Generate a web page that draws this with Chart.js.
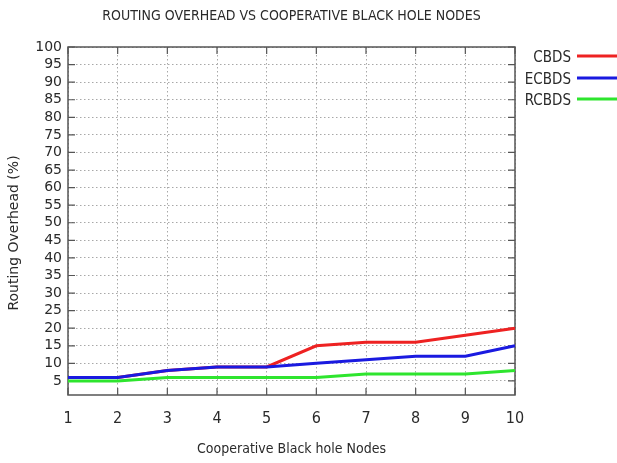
<!DOCTYPE html>
<html>
<head>
<meta charset="utf-8">
<script src="https://cdn.jsdelivr.net/npm/chart.js@4"></script>
<style>
  html, body { margin: 0; padding: 0; background: #fff; }
  #wrap { width: 617px; height: 463px; position: relative; }
</style>
</head>
<body>
<div id="wrap"><canvas id="c" width="617" height="463"></canvas></div>
<script>
const titleText = 'ROUTING OVERHEAD VS COOPERATIVE BLACK HOLE NODES';
const xTitle = 'Cooperative Black hole Nodes';
const yTitle = 'Routing Overhead (%)';
const categories = ['1', '2', '3', '4', '5', '6', '7', '8', '9', '10'];
const yTicks = [5, 10, 15, 20, 25, 30, 35, 40, 45, 50, 55, 60, 65, 70, 75, 80, 85, 90, 95, 100];
const cbds = [6, 6, 8, 9, 9, 15, 16, 16, 18, 20];
const ecbds = [6, 6, 8, 9, 9, 10, 11, 12, 12, 15];
const rcbds = [5, 5, 6, 6, 6, 6, 7, 7, 7, 8];
const seriesNames = ['CBDS', 'ECBDS', 'RCBDS'];

const NARROW = "'Liberation Sans Narrow', 'DejaVu Sans Condensed', sans-serif";
const WIDE = "'DejaVu Sans', sans-serif";
const TEXT = '#2a2a2a';

const framePlugin = {
  id: 'frame',
  beforeDraw(chart) {
    const ctx = chart.ctx;
    ctx.save();
    ctx.fillStyle = '#fff';
    ctx.fillRect(0, 0, chart.width, chart.height);
    ctx.restore();
  },
  beforeDatasetsDraw(chart) {
    const {ctx, chartArea: a, scales} = chart;
    ctx.save();
    ctx.strokeStyle = '#555';
    ctx.lineWidth = 1.5;
    ctx.strokeRect(a.left, a.top, a.right - a.left, a.bottom - a.top);
    ctx.lineWidth = 1.2;
    const tl = 7;
    ctx.beginPath();
    scales.x.ticks.forEach((t, i) => {
      const x = scales.x.getPixelForTick(i);
      ctx.moveTo(x, a.bottom); ctx.lineTo(x, a.bottom - tl);
      ctx.moveTo(x, a.top); ctx.lineTo(x, a.top + tl);
    });
    scales.y.ticks.forEach(t => {
      const y = scales.y.getPixelForValue(t.value);
      ctx.moveTo(a.left, y); ctx.lineTo(a.left + tl, y);
      ctx.moveTo(a.right, y); ctx.lineTo(a.right - tl, y);
    });
    ctx.stroke();
    ctx.restore();
  },
  afterDraw(chart) {
    const {ctx, chartArea: a} = chart;
    ctx.save();
    // title
    ctx.fillStyle = TEXT;
    ctx.font = '14px ' + NARROW;
    ctx.textAlign = 'center';
    ctx.textBaseline = 'middle';
    ctx.fillText(titleText, (a.left + a.right) / 2, 16);
    // y title
    ctx.save();
    ctx.translate(14, 233);
    ctx.rotate(-Math.PI / 2);
    ctx.font = '14px ' + WIDE;
    ctx.fillText(yTitle, 0, 0);
    ctx.restore();
    // legend
    ctx.font = '15px ' + NARROW;
    ctx.textAlign = 'right';
    const ys = [56, 78, 99];
    chart.data.datasets.forEach((ds, i) => {
      ctx.fillStyle = TEXT;
      ctx.fillText(ds.label, 571, ys[i] + 2);
      ctx.strokeStyle = ds.borderColor;
      ctx.lineWidth = 3;
      ctx.beginPath();
      ctx.moveTo(577, ys[i]);
      ctx.lineTo(620, ys[i]);
      ctx.stroke();
    });
    ctx.restore();
  }
};

const grid = { color: '#a8a8a8', lineWidth: 1, drawTicks: false };

new Chart(document.getElementById('c'), {
  type: 'line',
  data: {
    labels: categories,
    datasets: [
      { label: seriesNames[0], data: cbds, borderColor: '#ee2222', order: 3 },
      { label: seriesNames[1], data: ecbds, borderColor: '#1a1ae0', order: 2 },
      { label: seriesNames[2], data: rcbds, borderColor: '#2ee52e', order: 1 }
    ].map(d => Object.assign(d, { borderWidth: 3, pointRadius: 0, tension: 0, fill: false }))
  },
  options: {
    responsive: false,
    animation: false,
    devicePixelRatio: 1,
    layout: { padding: { top: 47, right: 102, left: 0, bottom: 0 } },
    plugins: { legend: { display: false }, title: { display: false }, tooltip: { enabled: false } },
    scales: {
      x: {
        type: 'category',
        offset: false,
        grid: Object.assign({}, grid),
        border: { display: false, dash: [1.5, 2.5] },
        ticks: { color: TEXT, font: { family: NARROW, size: 16 }, padding: 14, maxRotation: 0, autoSkip: false },
        title: { display: true, text: xTitle, color: TEXT, font: { family: NARROW, size: 14 }, padding: { top: 0, bottom: 5 } },
        afterFit(s) { s.height = 68; }
      },
      y: {
        type: 'linear',
        min: 1,
        max: 100,
        afterBuildTicks(s) { s.ticks = yTicks.map(v => ({ value: v })); },
        grid: Object.assign({}, grid),
        border: { display: false, dash: [1.5, 2.5] },
        ticks: { color: TEXT, font: { family: WIDE, size: 14 }, padding: 6, autoSkip: false },
        afterFit(s) { s.width = 68; }
      }
    }
  },
  plugins: [framePlugin]
});
</script>
</body>
</html>
